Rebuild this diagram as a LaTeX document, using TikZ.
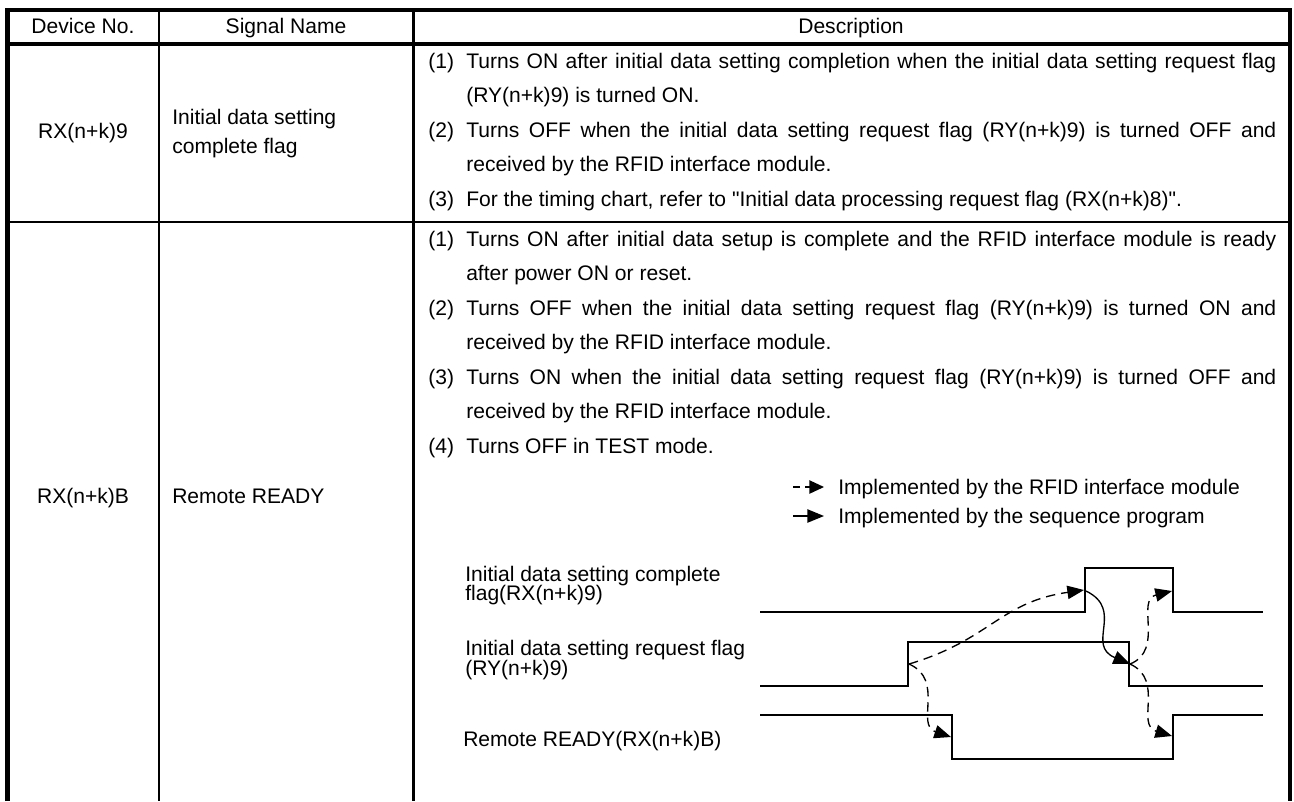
\documentclass[tikz,border=0pt]{standalone}
\usepackage{fontspec}
\setmainfont{Liberation Sans}
\usetikzlibrary{arrows.meta}
\newcommand{\jl}[1]{\makebox[607.5pt][s]{#1}}
\tikzset{
  thick border/.style={line width=3.4pt},
  thin border/.style={line width=2pt},
  txt/.style={anchor=base west, inner sep=0pt, font=\fontsize{15.8}{19}\selectfont},
  ctxt/.style={anchor=base, inner sep=0pt, font=\fontsize{15.8}{19}\selectfont},
  wave/.style={line width=1.2pt},
  seqarrow/.style={line width=1pt, -{Triangle[length=12.5pt,width=10pt]}},
  modarrow/.style={line width=1pt, dash pattern=on 7pt off 4.5pt, -{Triangle[length=12.5pt,width=10pt]}},
  legmod/.style={line width=1pt, dash pattern=on 5pt off 4pt, -{Triangle[length=11pt,width=10pt]}},
}
\begin{document}
\begin{tikzpicture}[x=0.75pt,y=-0.75pt]
\useasboundingbox (0,0) rectangle (1294,801);
% table lines
\draw[thin border] (159,10) -- (159,801);
\draw[thin border] (413.5,10) -- (413.5,801);
\draw[thin border] (7.5,222) -- (1290,222);
\draw[thick border] (7.5,801) -- (7.5,10) -- (1290,10) -- (1290,801);
\draw[thick border] (7.5,44) -- (1290,44);
% header
\node[ctxt] (h1) at (83,33) {Device No.};
\node[ctxt] (h2) at (286,33) {Signal Name};
\node[ctxt] (h3) at (851,33) {Description};
% row 1
\node[ctxt] (d1) at (83,138) {RX(n+k)9};
\node[txt] (s1a) at (172,124) {Initial data setting};
\node[txt] (s1b) at (172,153) {complete flag};
\node[txt] (r1n1) at (428,68) {(1)};
\node[txt] (r1l1) at (466,68) {\jl{Turns ON after initial data setting completion when the initial data setting request flag}};
\node[txt] (r1l2) at (466,102.5) {(RY(n+k)9) is turned ON.};
\node[txt] (r1n2) at (428,137) {(2)};
\node[txt] (r1l3) at (466,137) {\jl{Turns OFF when the initial data setting request flag (RY(n+k)9) is turned OFF and}};
\node[txt] (r1l4) at (466,171.5) {received by the RFID interface module.};
\node[txt] (r1n3) at (428,206) {(3)};
\node[txt] (r1l5) at (466,206) {For the timing chart, refer to \textquotedbl Initial data processing request flag (RX(n+k)8)\textquotedbl.};
% row 2
\node[ctxt] (d2) at (83,503) {RX(n+k)B};
\node[txt] (s2) at (172,503) {Remote READY};
\node[txt] (r2n1) at (428,246) {(1)};
\node[txt] (r2l1) at (466,246) {\jl{Turns ON after initial data setup is complete and the RFID interface module is ready}};
\node[txt] (r2l2) at (466,280.5) {after power ON or reset.};
\node[txt] (r2n2) at (428,315) {(2)};
\node[txt] (r2l3) at (466,315) {\jl{Turns OFF when the initial data setting request flag (RY(n+k)9) is turned ON and}};
\node[txt] (r2l4) at (466,349.5) {received by the RFID interface module.};
\node[txt] (r2n3) at (428,384) {(3)};
\node[txt] (r2l5) at (466,384) {\jl{Turns ON when the initial data setting request flag (RY(n+k)9) is turned OFF and}};
\node[txt] (r2l6) at (466,418.5) {received by the RFID interface module.};
\node[txt] (r2n4) at (428,453) {(4)};
\node[txt] (r2l7) at (466,453) {Turns OFF in TEST mode.};
% legend
\node[txt] (lg1) at (838,494) {Implemented by the RFID interface module};
\node[txt] (lg2) at (838,523) {Implemented by the sequence program};
\coordinate (lg1s) at (793,487);
\coordinate (lg1e) at (824,487);
\coordinate (lg2s) at (793,516);
\coordinate (lg2e) at (824,516);
\draw[legmod] (lg1s) -- (lg1e);
\draw[seqarrow] (lg2s) -- (lg2e);
% chart labels
\node[txt] (c1a) at (465,581) {Initial data setting complete};
\node[txt] (c1b) at (465,600) {flag(RX(n+k)9)};
\node[txt] (c2a) at (465,655) {Initial data setting request flag};
\node[txt] (c2b) at (465,675) {(RY(n+k)9)};
\node[txt] (c3) at (463,746) {Remote READY(RX(n+k)B)};
% waveforms
\draw[wave] (760,612) -- (1085,612) -- (1085,568) -- (1173,568) -- (1173,612) -- (1263,612);
\draw[wave] (760,686) -- (908,686) -- (908,642) -- (1129,642) -- (1129,686) -- (1263,686);
\draw[wave] (760,715) -- (952,715) -- (952,759) -- (1173,759) -- (1173,715) -- (1263,715);
% edge points
\coordinate (reqR) at (909,664);
\coordinate (reqF) at (1130,664);
\coordinate (cmpR) at (1084,590);
\coordinate (cmpRtop) at (1086,591);
\coordinate (cmpF) at (1172,591);
\coordinate (remF) at (951,737);
\coordinate (remR) at (1172,736);
% arrows
\draw[modarrow] (reqR) .. controls (990,640) and (1000,602) .. (cmpR);
\draw[modarrow] (reqR) .. controls (945,680) and (915,725) .. (remF);
\draw[seqarrow] (cmpRtop) .. controls (1125,610) and (1085,645) .. (reqF);
\draw[modarrow] (reqF) .. controls (1165,650) and (1135,600) .. (cmpF);
\draw[modarrow] (reqF) .. controls (1165,680) and (1135,725) .. (remR);
\end{tikzpicture}
\end{document}
